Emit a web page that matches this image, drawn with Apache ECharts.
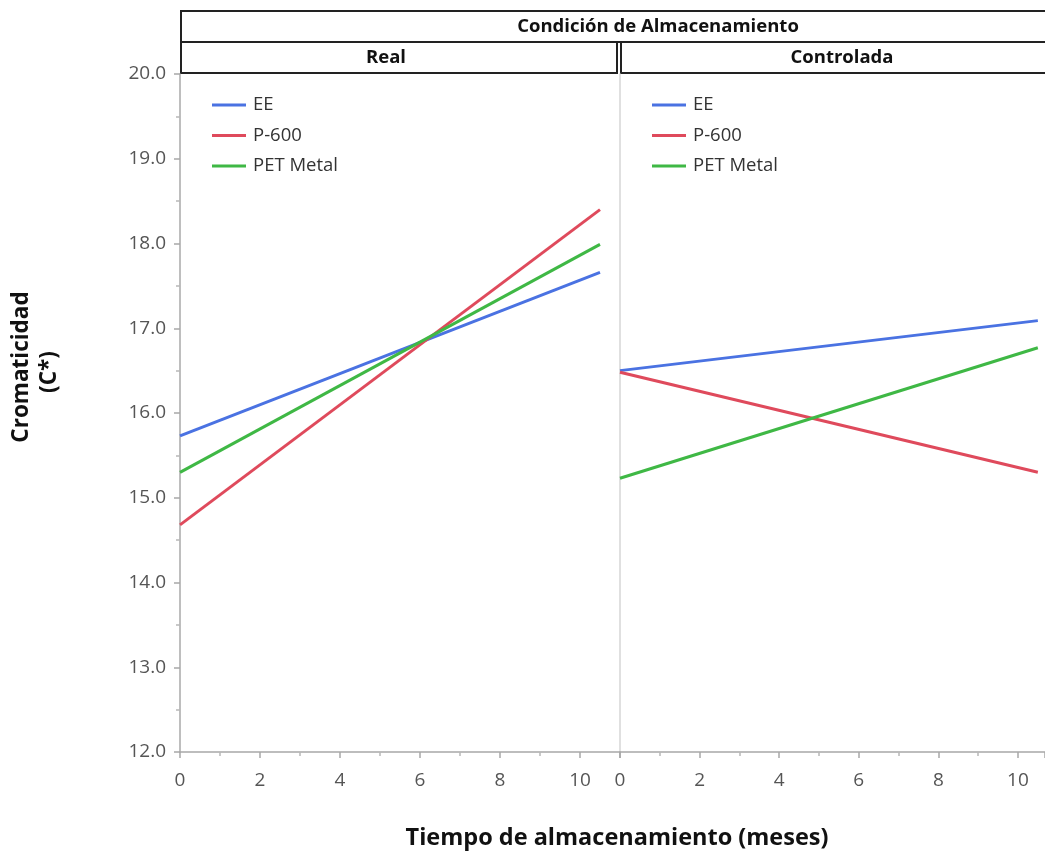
<!DOCTYPE html>
<html>
<head>
<meta charset="utf-8">
<title>Cromaticidad vs tiempo de almacenamiento</title>
<script src="https://cdn.jsdelivr.net/npm/echarts@6/dist/echarts.min.js"></script>
<style>
  html, body { margin: 0; padding: 0; background: #fff; }
  #chart { width: 1045px; height: 851px; }
</style>
</head>
<body>
<div id="chart"></div>
<script>
// Fitted lines: storage time (months) at the start and end of each line
const months = [0, 10.5];

// Panel "Real"
const realEE = [15.73, 17.66];
const realP600 = [14.68, 18.40];
const realPET = [15.30, 17.99];

// Panel "Controlada"
const ctrlEE = [16.50, 17.09];
const ctrlP600 = [16.48, 15.30];
const ctrlPET = [15.23, 16.77];

const seriesNames = ['EE', 'P-600', 'PET Metal'];
const colors = ['#4a72e2', '#df4a5c', '#3fb845'];
const panelNames = ['Real', 'Controlada'];
const groupTitle = 'Condición de Almacenamiento';
const yTitleLines = ['Cromaticidad', '(C*)'];
const xTitle = 'Tiempo de almacenamiento (meses)';

const yMin = 12, yMax = 20, yStep = 1;
const xMin = 0, xStep = 2;
const xMaxes = [11, 10.68];   // the second panel runs off the right edge

const FONT = '"Open Sans", "Noto Sans", sans-serif';

const pairs = (vals) => months.map((m, i) => [m, vals[i]]);

const panels = [
  [realEE, realP600, realPET],
  [ctrlEE, ctrlP600, ctrlPET]
];

const gridTop = 74, gridHeight = 678;
const gridLefts = [180, 620];
const gridWidths = [440, 425];

const chart = echarts.init(document.getElementById('chart'), null, { renderer: 'canvas' });

const series = [];
panels.forEach((vals, p) => {
  vals.forEach((v, s) => {
    series.push({
      name: seriesNames[s],
      type: 'line',
      xAxisIndex: p,
      yAxisIndex: p,
      data: pairs(v),
      showSymbol: false,
      symbol: 'none',
      silent: true,
      lineStyle: { color: colors[s], width: 3 },
      itemStyle: { color: colors[s] },
      z: 3
    });
  });
});

const makeXAxis = (p) => ({
  type: 'value',
  gridIndex: p,
  min: xMin,
  max: xMaxes[p],
  interval: xStep,
  axisLine: { show: true, lineStyle: { color: '#a8a8a8', width: 1.5 } },
  axisTick: { show: true, inside: false, length: 6, lineStyle: { color: '#a8a8a8', width: 1.5 } },
  minorTick: { show: true, splitNumber: 2, length: 4, lineStyle: { color: '#b8b8b8', width: 1.5 } },
  splitLine: { show: false },
  axisLabel: {
    show: true,
    margin: 19,
    color: '#555',
    fontFamily: FONT,
    fontSize: 19,
    showMaxLabel: false,
    formatter: (v) => (v <= 10 && v % 2 === 0 ? String(v) : '')
  }
});

const option = {
  backgroundColor: '#ffffff',
  animation: false,
  grid: gridLefts.map((l, i) => ({
    left: l, top: gridTop, width: gridWidths[i], height: gridHeight, containLabel: false
  })),
  xAxis: [makeXAxis(0), makeXAxis(1)],
  yAxis: [
    {
      type: 'value', gridIndex: 0, min: yMin, max: yMax, interval: yStep,
      axisLine: { show: true, lineStyle: { color: '#a8a8a8', width: 1.5 } },
      axisTick: { show: true, length: 6, lineStyle: { color: '#a8a8a8', width: 1.5 } },
      minorTick: { show: true, splitNumber: 2, length: 4, lineStyle: { color: '#b8b8b8', width: 1.5 } },
      splitLine: { show: false },
      axisLabel: {
        margin: 14, color: '#555', fontFamily: FONT, fontSize: 19,
        formatter: (v) => v.toFixed(1)
      }
    },
    {
      type: 'value', gridIndex: 1, min: yMin, max: yMax, interval: yStep,
      axisLine: { show: true, lineStyle: { color: '#d6d6d6', width: 1.5 } },
      axisTick: { show: false },
      splitLine: { show: false },
      axisLabel: { show: false }
    }
  ],
  legend: gridLefts.map((l) => ({
    data: seriesNames,
    orient: 'vertical',
    left: l + 32,
    top: 95,
    padding: 0,
    icon: 'rect',
    itemWidth: 34,
    itemHeight: 3,
    itemGap: 10.5,
    selectedMode: false,
    textStyle: { color: '#333', fontFamily: FONT, fontSize: 18.5, lineHeight: 20, padding: [0, 0, 0, 2] }
  })),
  series: series,
  graphic: [
    // group header box
    {
      type: 'rect', silent: true,
      shape: { x: 181, y: 11, width: 900, height: 31 },
      style: { fill: '#fff', stroke: '#222', lineWidth: 2 }
    },
    {
      type: 'text', silent: true,
      style: {
        text: groupTitle, x: 658, y: 27, align: 'center', verticalAlign: 'middle',
        font: 'bold 18.5px ' + FONT, fill: '#111'
      }
    },
    // panel header boxes
    {
      type: 'rect', silent: true,
      shape: { x: 181, y: 42, width: 436, height: 31 },
      style: { fill: '#fff', stroke: '#222', lineWidth: 2 }
    },
    {
      type: 'rect', silent: true,
      shape: { x: 621, y: 42, width: 460, height: 31 },
      style: { fill: '#fff', stroke: '#222', lineWidth: 2 }
    },
    {
      type: 'text', silent: true,
      style: {
        text: panelNames[0], x: 386, y: 58, align: 'center', verticalAlign: 'middle',
        font: 'bold 18.5px ' + FONT, fill: '#111'
      }
    },
    {
      type: 'text', silent: true,
      style: {
        text: panelNames[1], x: 842, y: 58, align: 'center', verticalAlign: 'middle',
        font: 'bold 18.5px ' + FONT, fill: '#111'
      }
    },
    // y axis title, two rotated lines
    {
      type: 'text', silent: true,
      x: 22, y: 367, rotation: Math.PI / 2,
      style: {
        text: yTitleLines[0], x: 0, y: 0, align: 'center', verticalAlign: 'middle',
        font: 'bold 22.5px ' + FONT, fill: '#111'
      }
    },
    {
      type: 'text', silent: true,
      x: 50, y: 372, rotation: Math.PI / 2,
      style: {
        text: yTitleLines[1], x: 0, y: 0, align: 'center', verticalAlign: 'middle',
        font: 'bold 22.5px ' + FONT, fill: '#111'
      }
    },
    // x axis title
    {
      type: 'text', silent: true,
      style: {
        text: xTitle, x: 617, y: 838, align: 'center', verticalAlign: 'middle',
        font: 'bold 23.5px ' + FONT, fill: '#111'
      }
    }
  ]
};

chart.setOption(option);
</script>
</body>
</html>
